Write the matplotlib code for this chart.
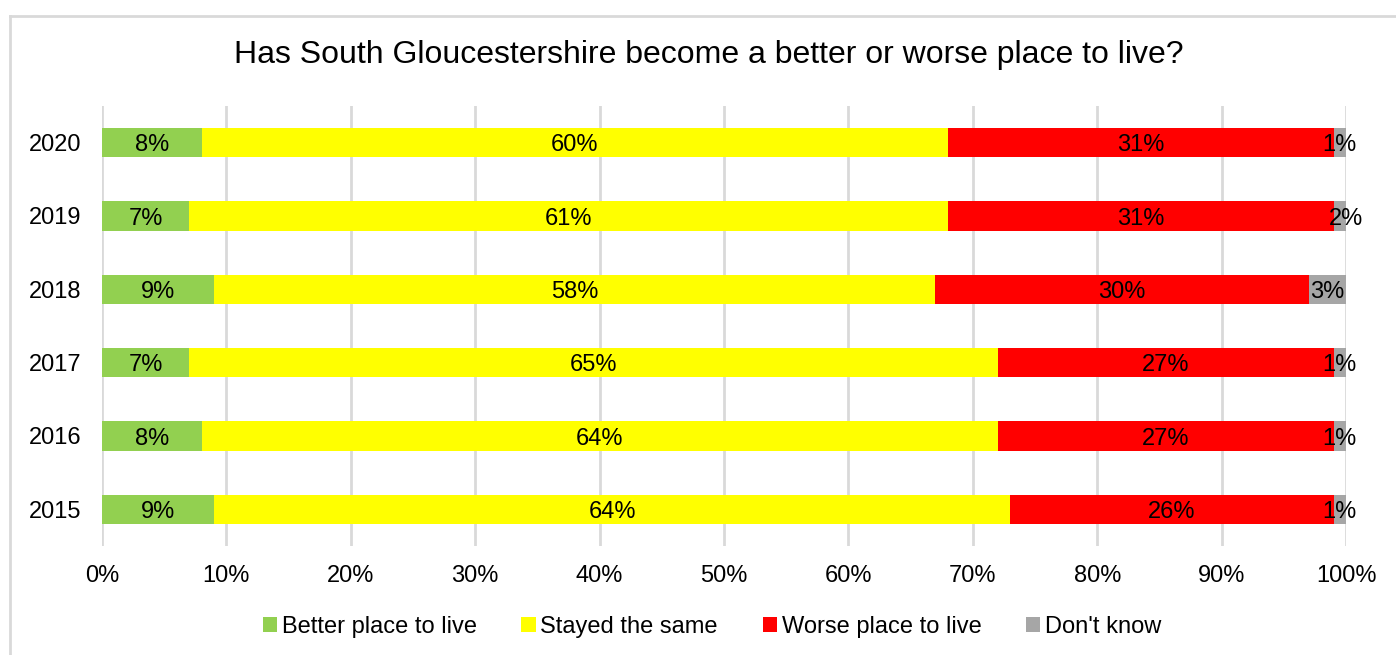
import matplotlib.pyplot as plt
from matplotlib.lines import Line2D
from matplotlib.transforms import offset_copy

plt.rcParams['font.family'] = ['Liberation Sans', 'DejaVu Sans']

# survey years and answer shares (%)
years = ['2015', '2016', '2017', '2018', '2019', '2020']
better = [9, 8, 7, 9, 7, 8]
same = [64, 64, 65, 58, 61, 60]
worse = [26, 27, 27, 30, 31, 31]
dont_know = [1, 1, 1, 3, 2, 1]

series = [
    ('Better place to live', better, '#92d050'),
    ('Stayed the same', same, '#ffff00'),
    ('Worse place to live', worse, '#ff0000'),
    ("Don't know", dont_know, '#a6a6a6'),
]

FS = 17

fig = plt.figure(figsize=(13.96, 6.55), dpi=100)
ax = fig.add_axes([102 / 1396, 1 - 546 / 655, 1244 / 1396, 440 / 655])

# baseline sits a little below the bar centre so the digits look centred
label_tr = offset_copy(ax.transData, fig=fig, y=-6.3, units='points')

# stacked horizontal bars with the value written in each segment
left = [0] * len(years)
for name, vals, color in series:
    ax.barh(years, vals, left=left, height=0.4, color=color, label=name, zorder=2)
    for i, v in enumerate(vals):
        ax.text(left[i] + v / 2, i, f'{v}%', ha='center', va='baseline',
                fontsize=FS, color='black', zorder=3, clip_on=False,
                transform=label_tr)
    left = [l + v for l, v in zip(left, vals)]

ax.set_xlim(0, 100)
ax.set_ylim(-0.5, len(years) - 0.5)
ax.set_xticks(range(0, 101, 10))
ax.set_xticklabels([f'{t}%' for t in range(0, 101, 10)])
ax.tick_params(axis='both', length=0, labelsize=FS)
ax.tick_params(axis='x', pad=14)
ax.tick_params(axis='y', pad=15)
ax.grid(axis='x', color='#d9d9d9', linewidth=2, zorder=0)
ax.set_axisbelow(True)
for s in ax.spines.values():
    s.set_visible(False)

fig.suptitle('Has South Gloucestershire become a better or worse place to live?',
             fontsize=23, x=0.508, y=1 - 55 / 655, va='center')

fig.legend(loc='center', bbox_to_anchor=(0.51, 1 - 627 / 655), ncol=4,
           frameon=False, fontsize=FS, handlelength=0.6, handleheight=0.6,
           handletextpad=0.2, columnspacing=1.9)

# light chart-area border on the left and top
fig.add_artist(Line2D([10 / 1396, 10 / 1396], [0, 1 - 16 / 655],
                      color='#d9d9d9', linewidth=2, transform=fig.transFigure))
fig.add_artist(Line2D([10 / 1396, 1], [1 - 16 / 655, 1 - 16 / 655],
                      color='#d9d9d9', linewidth=2, transform=fig.transFigure))

fig.savefig('out.png', dpi=100)
